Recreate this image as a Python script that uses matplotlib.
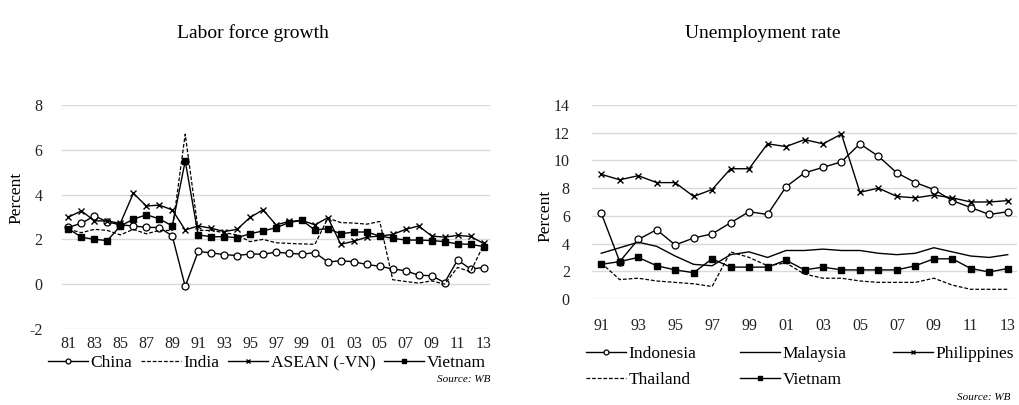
import matplotlib
matplotlib.use("Agg")
import matplotlib.pyplot as plt

plt.rcParams["font.family"] = ["Liberation Serif", "DejaVu Serif"]
plt.rcParams["axes.unicode_minus"] = False

W, H = 1019, 405

# Labor force growth, 1981-2013
lf_years = list(range(1981, 2014))
lf_china = [2.54, 2.72, 3.05, 2.78, 2.65, 2.6, 2.54, 2.53, 2.16, -0.1,
            1.46, 1.4, 1.32, 1.28, 1.35, 1.34, 1.43, 1.38, 1.34, 1.41,
            0.99, 1.05, 1.0, 0.88, 0.8, 0.68, 0.6, 0.4, 0.38, 0.07,
            1.08, 0.68, 0.74]
lf_india = [2.45, 2.3, 2.45, 2.4, 2.2, 2.45, 2.25, 2.4, 2.4, 6.7,
            2.4, 2.4, 2.3, 2.2, 1.9, 2.0, 1.85, 1.82, 1.8, 1.78,
            2.95, 2.75, 2.73, 2.68, 2.8, 0.2, 0.12, 0.05, 0.15, 0.0,
            0.75, 0.55, 1.75]
lf_asean = [3.0, 3.27, 2.83, 2.82, 2.72, 4.06, 3.49, 3.53, 3.32, 2.42,
            2.6, 2.5, 2.35, 2.45, 2.98, 3.32, 2.65, 2.8, 2.85, 2.65,
            2.97, 1.78, 1.92, 2.1, 2.15, 2.22, 2.45, 2.6, 2.15, 2.1,
            2.18, 2.13, 1.82]
lf_vietnam = [2.47, 2.1, 2.0, 1.95, 2.6, 2.9, 3.1, 2.92, 2.6, 5.5,
              2.2, 2.12, 2.12, 2.08, 2.25, 2.38, 2.52, 2.75, 2.85, 2.42,
              2.48, 2.25, 2.33, 2.33, 2.15, 2.05, 1.97, 1.97, 1.95, 1.9,
              1.8, 1.78, 1.68]
lf_ticks = list(range(1981, 2014, 2))

# Unemployment rate, 1991-2013
ur_years = list(range(1991, 2014))
ur_indonesia = [6.2, 2.7, 4.3, 5.0, 3.9, 4.4, 4.7, 5.5, 6.3, 6.1,
                8.1, 9.1, 9.5, 9.9, 11.2, 10.3, 9.1, 8.4, 7.9, 7.1,
                6.6, 6.1, 6.3]
ur_malaysia = [3.3, 3.7, 4.1, 3.8, 3.1, 2.5, 2.4, 3.2, 3.4, 3.0,
               3.5, 3.5, 3.6, 3.5, 3.5, 3.3, 3.2, 3.3, 3.7, 3.4,
               3.1, 3.0, 3.2]
ur_philippines = [9.0, 8.6, 8.9, 8.4, 8.4, 7.4, 7.9, 9.4, 9.4, 11.2,
                  11.0, 11.5, 11.2, 11.9, 7.7, 8.0, 7.4, 7.3, 7.5, 7.3,
                  7.0, 7.0, 7.1]
ur_thailand = [2.6, 1.4, 1.5, 1.3, 1.2, 1.1, 0.9, 3.4, 3.0, 2.4,
               2.6, 1.8, 1.5, 1.5, 1.3, 1.2, 1.2, 1.2, 1.5, 1.0,
               0.7, 0.7, 0.7]
ur_vietnam = [2.5, 2.7, 3.0, 2.4, 2.1, 1.9, 2.9, 2.3, 2.3, 2.3,
              2.8, 2.1, 2.3, 2.1, 2.1, 2.1, 2.1, 2.4, 2.9, 2.9,
              2.2, 1.95, 2.2]
ur_ticks = list(range(1991, 2014, 2))

fig = plt.figure(figsize=(W / 100, H / 100), dpi=100)


def px_axes(x0, x1, ytop, ybot):
    return fig.add_axes([x0 / W, 1 - ybot / H, (x1 - x0) / W, (ybot - ytop) / H])


def style(ax, ticks, xpad, ypad):
    for s in ax.spines.values():
        s.set_visible(False)
    ax.grid(axis="y", color="#d9d9d9", linewidth=1)
    ax.set_axisbelow(True)
    ax.set_xticks(ticks)
    ax.set_xticklabels([f"{t % 100:02d}" for t in ticks])
    ax.tick_params(axis="x", length=0, pad=xpad, labelsize=11.5, colors="#222222")
    ax.tick_params(axis="y", length=0, pad=ypad, labelsize=11.5, colors="#222222")


lw = 1.0
circ = dict(marker="o", markersize=5, markerfacecolor="white", markeredgecolor="black", markeredgewidth=0.9)
sq = dict(marker="s", markersize=5, markerfacecolor="black", markeredgecolor="black")
xm = dict(marker="x", markersize=5, markeredgewidth=1.0)
leg_kw = dict(frameon=False, fontsize=12.5, handlelength=2.3, handletextpad=0.15,
              borderpad=0, borderaxespad=0, markerscale=0.7)

# Left chart
ax1 = px_axes(62, 490, 105, 329)
l_ch, = ax1.plot(lf_years, lf_china, color="black", lw=lw, label="China", **circ)
l_in, = ax1.plot(lf_years, lf_india, color="black", lw=0.9, ls=(0, (3, 1.5)), label="India")
l_as, = ax1.plot(lf_years, lf_asean, color="black", lw=lw, label="ASEAN (-VN)", **xm)
l_vn, = ax1.plot(lf_years, lf_vietnam, color="black", lw=lw, label="Vietnam", **sq)
ax1.set_xlim(1980.5, 2013.5)
ax1.set_ylim(-2, 8)
ax1.set_yticks([-2, 0, 2, 4, 6, 8])
style(ax1, lf_ticks, 5, 14)
fig.legend(handles=[l_ch, l_in, l_as, l_vn], loc="center",
           bbox_to_anchor=(267 / W, 1 - 363 / H), ncol=4, columnspacing=0.5, **leg_kw)
fig.text(16 / W, 1 - 198 / H, "Percent", rotation=90, ha="center", va="center", fontsize=12.5)
fig.text(253 / W, 1 - 33 / H, "Labor force growth", ha="center", va="center", fontsize=14)
fig.text(490 / W, 1 - 380 / H, "Source: WB", ha="right", va="center", fontsize=8, style="italic")

# Right chart
ax2 = px_axes(592, 1017, 105, 299)
r_id, = ax2.plot(ur_years, ur_indonesia, color="black", lw=lw, label="Indonesia", **circ)
r_my, = ax2.plot(ur_years, ur_malaysia, color="black", lw=lw, label="Malaysia")
r_ph, = ax2.plot(ur_years, ur_philippines, color="black", lw=lw, label="Philippines", **xm)
r_th, = ax2.plot(ur_years, ur_thailand, color="black", lw=0.9, ls=(0, (3, 1.5)), label="Thailand")
r_vn, = ax2.plot(ur_years, ur_vietnam, color="black", lw=lw, label="Vietnam", **sq)
ax2.set_xlim(1990.5, 2013.5)
ax2.set_ylim(0, 14)
ax2.set_yticks(range(0, 15, 2))
style(ax2, ur_ticks, 14, 16)
# three legend columns with equal spacing, filled row by row
for x0, hs in [(586, [r_id, r_th]), (740, [r_my, r_vn]), (893, [r_ph])]:
    fig.legend(handles=hs, loc="upper left", bbox_to_anchor=(x0 / W, 1 - 346 / H),
               ncol=1, labelspacing=0.55, **leg_kw)
fig.text(545 / W, 1 - 216 / H, "Percent", rotation=90, ha="center", va="center", fontsize=12.5)
fig.text(763 / W, 1 - 33 / H, "Unemployment rate", ha="center", va="center", fontsize=14)
fig.text(1010 / W, 1 - 398 / H, "Source: WB", ha="right", va="center", fontsize=8, style="italic")

fig.savefig("out.png", dpi=100)
